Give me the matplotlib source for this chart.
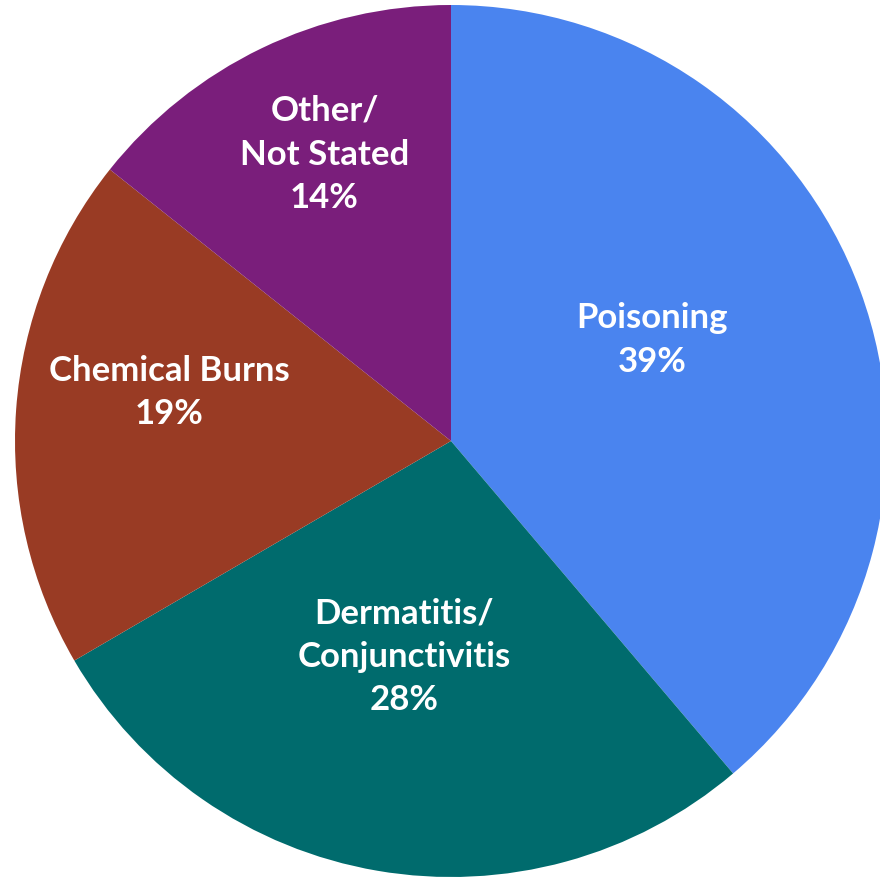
import numpy as np
import matplotlib
matplotlib.use("Agg")
import matplotlib.pyplot as plt

# ── data ──────────────────────────────────────────────────────────
categories = ["Poisoning", "Dermatitis/\nConjunctivitis", "Chemical Burns", "Other/\nNot Stated"]
shares     = [38.8, 27.8, 19.1, 14.3]          # slice sizes
labels_pct = [39, 28, 19, 14]                  # rounded values printed on the chart
colors     = ["#4A84EF", "#006B6D", "#993B24", "#7A1E7B"]

# label placement (fraction of radius, angle nudge in degrees)
label_r     = [0.517, 0.504, 0.656, 0.72]
label_nudge = [6.7, -2.5, -5.8, -2.0]

# ── figure ────────────────────────────────────────────────────────
W, H, DPI = 880, 878, 100
fig = plt.figure(figsize=(W / DPI, H / DPI), dpi=DPI)
ax = fig.add_axes([0, 0, 1, 1])

wedges, _ = ax.pie(
    shares,
    colors=colors,
    startangle=90,
    counterclock=False,
    radius=1.0,
    wedgeprops=dict(linewidth=0),
)

# pie centre sits at pixel (451, 442), radius 436 px
cx, cy, rpx = 451, 442, 436
ax.set_xlim(-cx / rpx, (W - cx) / rpx)
ax.set_ylim(-(H - cy) / rpx, cy / rpx)
ax.set_aspect("auto")
ax.axis("off")

for w, name, pct, rf, dn in zip(wedges, categories, labels_pct, label_r, label_nudge):
    mid = np.deg2rad((w.theta1 + w.theta2) / 2 + dn)
    ax.text(rf * np.cos(mid), rf * np.sin(mid), f"{name}\n{pct}%",
            ha="center", va="center", color="white",
            fontsize=25, fontweight="bold", family="Lato",
            linespacing=1.45)

fig.savefig("out.png", dpi=DPI)
